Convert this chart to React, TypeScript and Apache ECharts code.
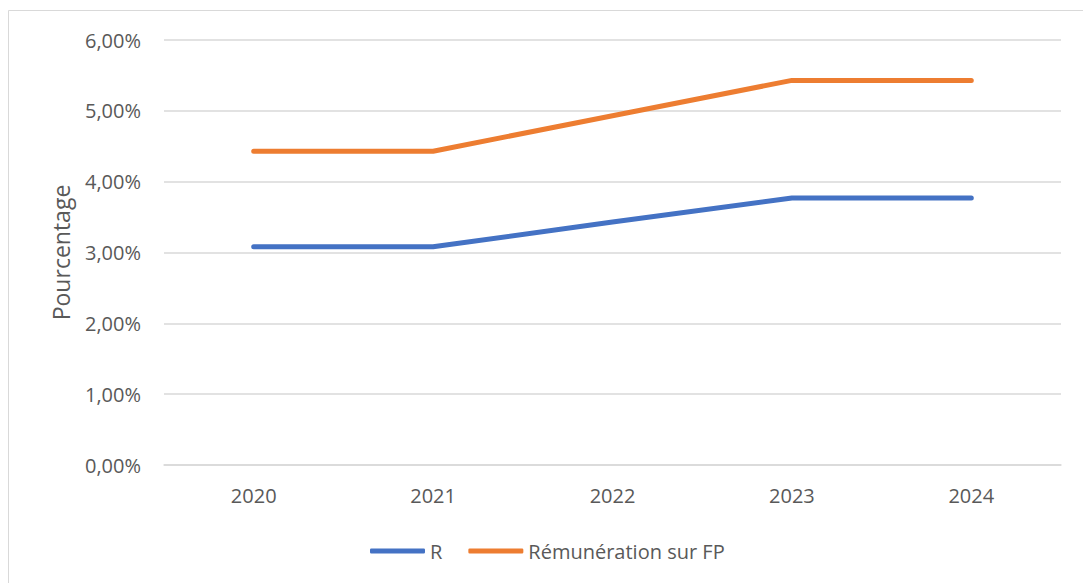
import React, { useEffect, useRef } from "react";
import * as echarts from "echarts";

const years = ["2020", "2021", "2022", "2023", "2024"];
const seriesR = [3.08, 3.08, 3.43, 3.77, 3.77];
const seriesFP = [4.43, 4.43, 4.93, 5.43, 5.43];
const seriesNames = ["R", "Rémunération sur FP"];
const yAxisName = "Pourcentage";

const FONT = "'Open Sans', sans-serif";
const TXT = "#595959";

export default function App() {
  const ref = useRef<HTMLDivElement>(null);
  useEffect(() => {
    if (!ref.current) return;
    const chart = echarts.init(ref.current, undefined, { renderer: "svg" });
    chart.setOption({
      animation: false,
      backgroundColor: "#ffffff",
      textStyle: { fontFamily: FONT },
      graphic: [
        {
          type: "rect",
          shape: { x: 8.5, y: 10.5, width: 1100, height: 600 },
          style: { fill: "none", stroke: "#d9d9d9", lineWidth: 1 },
          silent: true,
          z: -1,
        },
      ],
      grid: { left: 164, right: 22, top: 40, bottom: 118 },
      legend: {
        left: 365,
        top: 536,
        icon: "roundRect",
        itemWidth: 55,
        itemHeight: 5,
        itemGap: 26,
        textStyle: { color: TXT, fontSize: 20, fontFamily: FONT },
        data: seriesNames,
      },
      xAxis: {
        type: "category",
        data: years,
        boundaryGap: true,
        axisLine: { show: true, lineStyle: { color: "#d9d9d9", width: 1.5 } },
        axisTick: { show: false },
        axisLabel: { color: TXT, fontSize: 20, fontFamily: FONT, margin: 20 },
      },
      yAxis: {
        type: "value",
        min: 0,
        max: 6,
        interval: 1,
        name: yAxisName,
        nameLocation: "middle",
        nameRotate: 90,
        nameGap: 92,
        nameTextStyle: { color: TXT, fontSize: 23, fontFamily: FONT },
        axisLine: { show: false },
        axisTick: { show: false },
        splitLine: { lineStyle: { color: "#d9d9d9", width: 1.5 } },
        axisLabel: {
          color: TXT,
          fontSize: 20,
          fontFamily: FONT,
          margin: 23,
          formatter: (v: number) => v.toFixed(2).replace(".", ",") + "%",
        },
      },
      series: [
        {
          name: seriesNames[0],
          type: "line",
          data: seriesR,
          showSymbol: false,
          symbol: "none",
          lineStyle: { color: "#4472C4", width: 5, cap: "round", join: "round" },
          itemStyle: { color: "#4472C4" },
        },
        {
          name: seriesNames[1],
          type: "line",
          data: seriesFP,
          showSymbol: false,
          symbol: "none",
          lineStyle: { color: "#ED7D31", width: 5, cap: "round", join: "round" },
          itemStyle: { color: "#ED7D31" },
        },
      ],
    });
    return () => chart.dispose();
  }, []);
  return (
    <div
      ref={ref}
      style={{ position: "fixed", left: 0, top: 0, width: 1083, height: 583 }}
    />
  );
}
